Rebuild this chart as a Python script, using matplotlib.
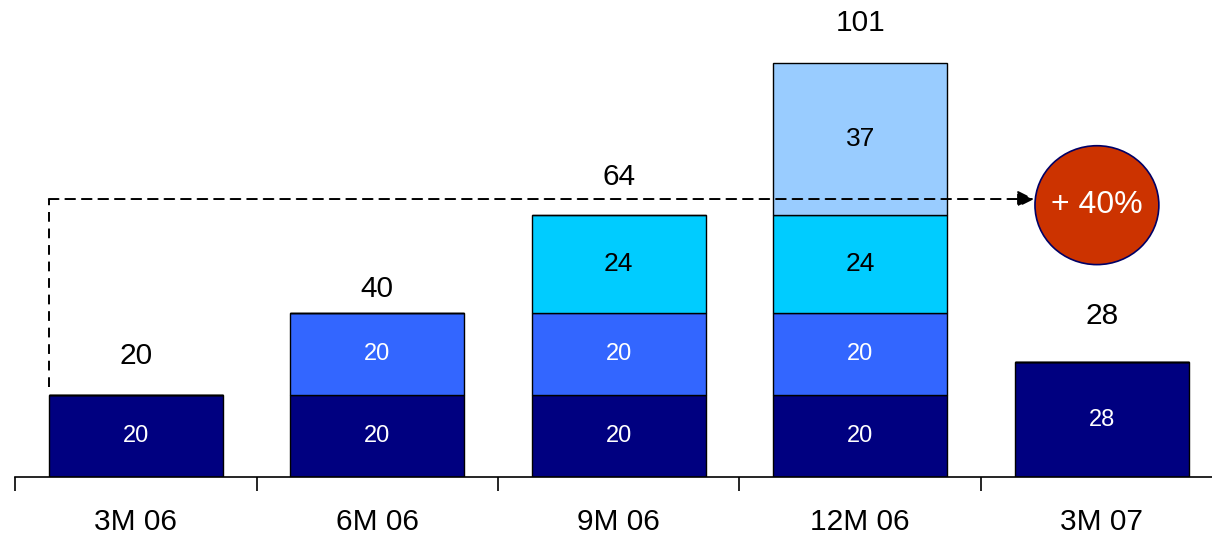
import matplotlib.pyplot as plt
from matplotlib.patches import Ellipse

plt.rcParams['font.family'] = ['Liberation Sans', 'DejaVu Sans']

# categories and stacked segments
periods = ['3M 06', '6M 06', '9M 06', '12M 06', '3M 07']
seg1 = [20, 20, 20, 20, 28]
seg2 = [0, 20, 20, 20, 0]
seg3 = [0, 0, 24, 24, 0]
seg4 = [0, 0, 0, 37, 0]
totals = [20, 40, 64, 101, 28]
growth = '+ 40%'

colors = ['#000080', '#3366FF', '#00CCFF', '#99CCFF']
text_colors = ['white', 'white', 'black', 'black']
seg_font = [17, 17, 19, 19]

fig = plt.figure(figsize=(12.12, 5.39), dpi=100)
ax = fig.add_axes([15 / 1212, 62 / 539, 1207.5 / 1212, 477 / 539])

x = list(range(len(periods)))
w = 0.72
bottom = [0] * len(periods)
for k, seg in enumerate([seg1, seg2, seg3, seg4]):
    ax.bar(x, seg, w, bottom=bottom, color=colors[k], edgecolor='black', linewidth=1)
    for i, v in enumerate(seg):
        if v > 0:
            ax.text(x[i], bottom[i] + v / 2, str(v), ha='center', va='center',
                    color=text_colors[k], fontsize=seg_font[k])
    bottom = [b + v for b, v in zip(bottom, seg)]

# totals above bars (offsets in points)
offsets = [28, 17, 27, 29, 33]
for i, t in enumerate(totals):
    ax.annotate(str(t), (x[i], t), xytext=(0, offsets[i]), textcoords='offset points',
                ha='center', va='center', fontsize=21.5)

# dashed arrow from first bar to growth bubble
y_line = 67.8
ax.plot([-w / 2, -w / 2], [totals[0] + 2, y_line], color='black', ls=(0, (5, 3.5)), lw=1.4)
ax.annotate('', xy=(3.72, y_line), xytext=(-w / 2, y_line),
            arrowprops=dict(arrowstyle='-|>', color='black', lw=1.4, ls=(0, (5, 3.5)),
                            mutation_scale=25, shrinkA=0, shrinkB=0))
ax.add_patch(Ellipse((3.98, 66.3), 0.513, 29, facecolor='#CC3300', edgecolor='#000066',
                     lw=1.2, zorder=5))
ax.text(3.98, 66.3, growth, ha='center', va='center', color='white', fontsize=23, zorder=6)

ax.set_xlim(-0.5, 4.5)
ax.set_ylim(0, 477 / 4.1)
for s in ['top', 'right', 'left']:
    ax.spines[s].set_visible(False)
ax.spines['bottom'].set_linewidth(1.2)
ax.set_yticks([])
ax.set_xticks([i - 0.5 for i in range(len(periods) + 1)])
ax.set_xticklabels([])
ax.tick_params(axis='x', which='major', length=10, width=1.2, direction='out')
ax.set_xticks(x, minor=True)
ax.set_xticklabels(periods, minor=True, fontsize=21.5)
ax.tick_params(axis='x', which='minor', length=0, pad=22)

fig.savefig('out.png', dpi=100)
